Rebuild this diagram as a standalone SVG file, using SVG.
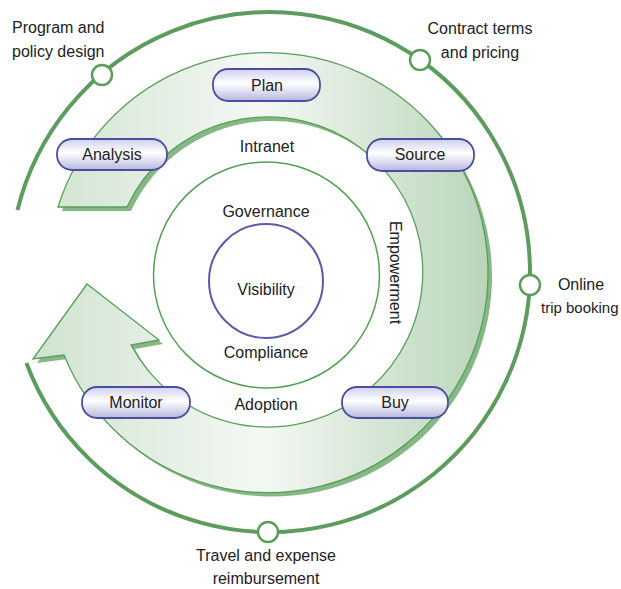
<svg xmlns="http://www.w3.org/2000/svg" width="621" height="589" viewBox="0 0 621 589">
<style>
text{font-family:"Liberation Sans",Arial,sans-serif;font-size:16px;fill:#222}
.m{text-anchor:middle}
.pill{fill:url(#pg);stroke:#4d4d9e;stroke-width:1.8}
.node{fill:#fff;stroke:#5c9c5c;stroke-width:2.5}
.ring{fill:none;stroke:#55a055;stroke-width:1.5}
</style>
<defs>
<linearGradient id="pg" x1="0" y1="0" x2="0" y2="1">
<stop offset="0" stop-color="#cfcff0"/>
<stop offset="0.45" stop-color="#ffffff"/>
<stop offset="1" stop-color="#b6b6e0"/>
</linearGradient>
<linearGradient id="bg" gradientUnits="userSpaceOnUse" x1="30" y1="0" x2="490" y2="0">
<stop offset="0" stop-color="#cfe3cf"/>
<stop offset="0.5" stop-color="#f4f8f4"/>
<stop offset="1" stop-color="#b9d5b9"/>
</linearGradient>
<path id="band" d="M58,207 A220,220 0 1 1 64,355 L33,359 L87,284 L159,340 L131,345 A155,155 0 1 0 127,207 Z"/>
</defs>
<g id="outer-cycle">
<path d="M17.5,210 A260,260 0 1 1 26.4,363" fill="none" stroke="#5c9c5c" stroke-width="4"/>
</g>
<g id="band-arrow">
<use href="#band" transform="translate(4,4)" fill="#86b886"/>
<use href="#band" fill="url(#bg)" stroke="#5a9e5a" stroke-width="1.3"/>
</g>
<g id="connectors"></g>
<g id="governance-ring"><circle class="ring" cx="266.5" cy="275" r="113"/></g>
<g id="visibility"><circle cx="266" cy="281" r="57" fill="none" stroke="#5b5ba8" stroke-width="2"/><text class="m" x="266" y="295">Visibility</text></g>
<g id="labels-inner">
<text class="m" x="267" y="152">Intranet</text>
<text class="m" x="266" y="217">Governance</text>
<text class="m" x="266" y="358">Compliance</text>
<text class="m" x="266" y="410">Adoption</text>
<text class="m" transform="translate(390,272.5) rotate(90)">Empowerment</text>
</g>
<g id="plan"><rect class="pill" x="213" y="69" width="107" height="32" rx="15"/><text class="m" x="267" y="91">Plan</text></g>
<g id="analysis"><rect class="pill" x="57" y="139" width="110" height="31" rx="15"/><text class="m" x="112" y="160">Analysis</text></g>
<g id="source"><rect class="pill" x="367" y="139" width="107" height="32" rx="15"/><text class="m" x="420" y="160">Source</text></g>
<g id="buy"><rect class="pill" x="342" y="387" width="106" height="31" rx="15"/><text class="m" x="395" y="408">Buy</text></g>
<g id="monitor"><rect class="pill" x="82" y="387" width="108" height="31" rx="15"/><text class="m" x="136" y="408">Monitor</text></g>
<g id="program-node"><circle class="node" cx="102" cy="75" r="10"/><text x="12" y="33">Program and</text><text x="12" y="57">policy design</text></g>
<g id="contract-node"><circle class="node" cx="420" cy="60" r="10"/><text class="m" x="480" y="34">Contract terms</text><text class="m" x="480" y="58">and pricing</text></g>
<g id="online-node"><circle class="node" cx="530" cy="285" r="10"/><text class="m" x="581" y="290">Online</text><text x="541" y="313" style="font-size:15px">trip booking</text></g>
<g id="travel-node"><circle class="node" cx="268" cy="532" r="10"/><text class="m" x="266" y="561">Travel and expense</text><text class="m" x="266" y="584">reimbursement</text></g>
</svg>
